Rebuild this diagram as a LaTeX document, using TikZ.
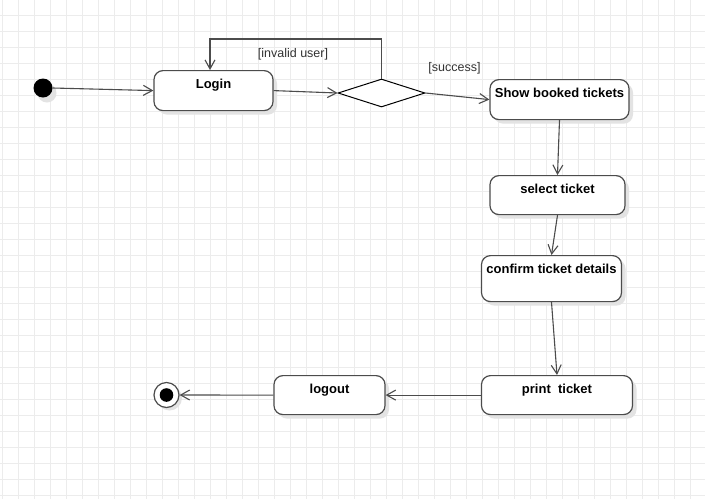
\documentclass[tikz,border=0pt]{standalone}
\usepackage{fontspec}
\setmainfont{Liberation Sans}
\usetikzlibrary{arrows.meta,shapes.geometric,shadows}

\begin{document}
\begin{tikzpicture}[x=1pt,y=-1pt,
  gridline/.style={gray!15, line width=0.9pt},
  state/.style={draw=black!70, line width=1.2pt, rounded corners=9pt, fill=white,
    anchor=north, inner xsep=0pt, inner ysep=0pt, text height=17.5pt,
    font=\fontsize{13}{15}\selectfont\bfseries,
    drop shadow={shadow xshift=4pt, shadow yshift=-4pt, fill=black!11, opacity=1}},
  decision/.style={diamond, draw=black, line width=1pt, fill=white, inner sep=0pt,
    minimum width=87pt, minimum height=28pt},
  initial/.style={circle, fill=black, minimum size=19pt, inner sep=0pt,
    drop shadow={shadow xshift=4pt, shadow yshift=-5pt, fill=black!11, opacity=1}},
  final/.style={circle, draw=black!70, line width=1.2pt, fill=white, minimum size=25pt, inner sep=0pt,
    path picture={\fill[black] (path picture bounding box.center) circle (6.8pt);},
    drop shadow={shadow xshift=3pt, shadow yshift=-3pt, fill=black!11, opacity=1}},
  guard/.style={text=black!80, font=\fontsize{12.5}{14}\selectfont, inner sep=0pt},
  flow/.style={draw=black!70, line width=1.1pt, -{Straight Barb[length=9pt,width=10pt]}}
]
  % background grid
  \useasboundingbox (0,0) rectangle (705,499);
  \fill[white] (0,0) rectangle (705,499);
  \foreach \gx in {0,...,43}
    \draw[gridline] ({2.3+16*\gx},0) -- ({2.3+16*\gx},499);
  \foreach \gy in {0,...,30}
    \draw[gridline] (0,{15.3+16*\gy}) -- (705,{15.3+16*\gy});

  % start and end
  \node[initial] (start) at (43,88) {};
  \node[final] (stop) at (166.5,395) {};

  % states
  \node[state, minimum width=119pt, text depth=22.5pt] (login) at (213.5,70) {Login};
  \node[decision] (check) at (381.5,93) {};
  \node[state, minimum width=139pt, text depth=22.5pt] (booked) at (559.5,79) {Show booked tickets};
  \node[state, minimum width=135pt, text depth=21.5pt] (select) at (557.5,175) {select ticket};
  \node[state, minimum width=140pt, text depth=28.5pt] (confirm) at (551.5,255) {confirm ticket details};
  \node[state, minimum width=151pt, text depth=21.5pt] (print) at (557,375) {print\ \ ticket};
  \node[state, minimum width=111pt, text depth=21.5pt] (logout) at (329.5,375) {logout};

  % guard labels
  \node[guard] (invalid) at (293,54) {[invalid user]};
  \node[guard] (success) at (454.5,68) {[success]};

  % transitions
  \coordinate (loop) at (210,39);
  \draw[flow] (start.east) -- (login.west);
  \draw[flow] (login.east) -- (check.west);
  \draw[flow] (check.north) |- (loop) -- (login.north -| loop);
  \draw[flow] (check.east) -- (booked.west);
  \draw[flow] (booked.south) -- (select.north);
  \draw[flow] (select.south) -- (confirm.north);
  \draw[flow] (confirm.south) -- (print.north);
  \draw[flow] (print.west) -- (logout.east);
  \draw[flow] (logout.west) -- (stop.east);
\end{tikzpicture}
\end{document}
